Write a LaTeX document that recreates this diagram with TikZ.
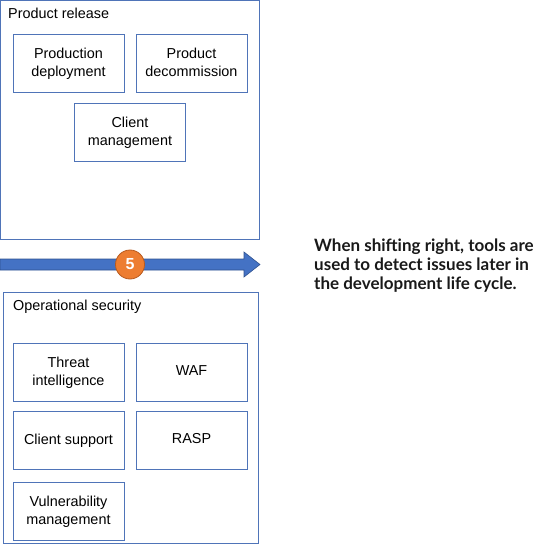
\documentclass[tikz,border=0pt]{standalone}
\usepackage{fontspec}
\setmainfont{Liberation Sans}
\newfontfamily\notefont{Lato}
\usepackage{tikz}

\definecolor{boxblue}{HTML}{4F74B8}
\definecolor{arrowblue}{HTML}{4472C4}
\definecolor{arrowedge}{HTML}{2F528F}
\definecolor{stepfill}{HTML}{ED7D31}
\definecolor{stepedge}{HTML}{B85A1E}

\begin{document}
\begin{tikzpicture}
	[x=1pt, y=-1pt,
	groupbox/.style={draw=boxblue, line width=1pt},
	grouptitle/.style={anchor=base west, inner sep=0pt, font=\fontsize{14.4}{18}\selectfont},
	itembox/.style={draw=boxblue, line width=1pt, rectangle, align=center,
		minimum width=111pt, minimum height=58pt, inner sep=0pt,
		font=\fontsize{14.4}{18}\selectfont,
		execute at end node={\rule[-3.1pt]{0pt}{3.1pt}}},
	stepmark/.style={circle, fill=stepfill, draw=stepedge, line width=0.8pt,
		minimum size=29pt, inner sep=0pt, text=white,
		font=\fontsize{16}{16}\selectfont\bfseries}]
	
	\useasboundingbox (0,0) rectangle (533,545);
	
	% product release
	\draw [groupbox] (0.5,0.5) rectangle (259,239);
	\node [grouptitle] (release) at (8,19) {Product release};
	\node [itembox] (deploy) at (68.5,63.5) {Production\\deployment};
	\node [itembox] (decom) at (191.5,63.5) {Product\\decommission};
	\node [itembox] (client) at (130,133) {Client\\management};
	
	% shift right arrow
	\draw [fill=arrowblue, draw=arrowedge, line width=0.6pt]
		(0,259) -- (244,259) -- (244,252) -- (260,264.5) -- (244,277)
		-- (244,270) -- (0,270) -- cycle;
	\node [stepmark] (five) at (130,264.5) {5};
	\node [anchor=base west, inner sep=0pt, align=left, text=black!90,
		font=\notefont\fontsize{17}{19}\selectfont\bfseries] (note) at (314,289)
		{When shifting right, tools are\\used to detect issues later in\\the development life cycle.};
	
	% operational security
	\draw [groupbox] (3,292) rectangle (258,543);
	\node [grouptitle] (opsec) at (13,310) {Operational security};
	\node [itembox] (threat) at (68.5,372.5) {Threat\\intelligence};
	\node [itembox] (waf) at (191.5,372.5) {WAF};
	\node [itembox] (support) at (68.5,440.5) {Client support};
	\node [itembox] (rasp) at (191.5,440.5) {RASP};
	\node [itembox] (vuln) at (68.5,511.5) {Vulnerability\\management};
\end{tikzpicture}
\end{document}
